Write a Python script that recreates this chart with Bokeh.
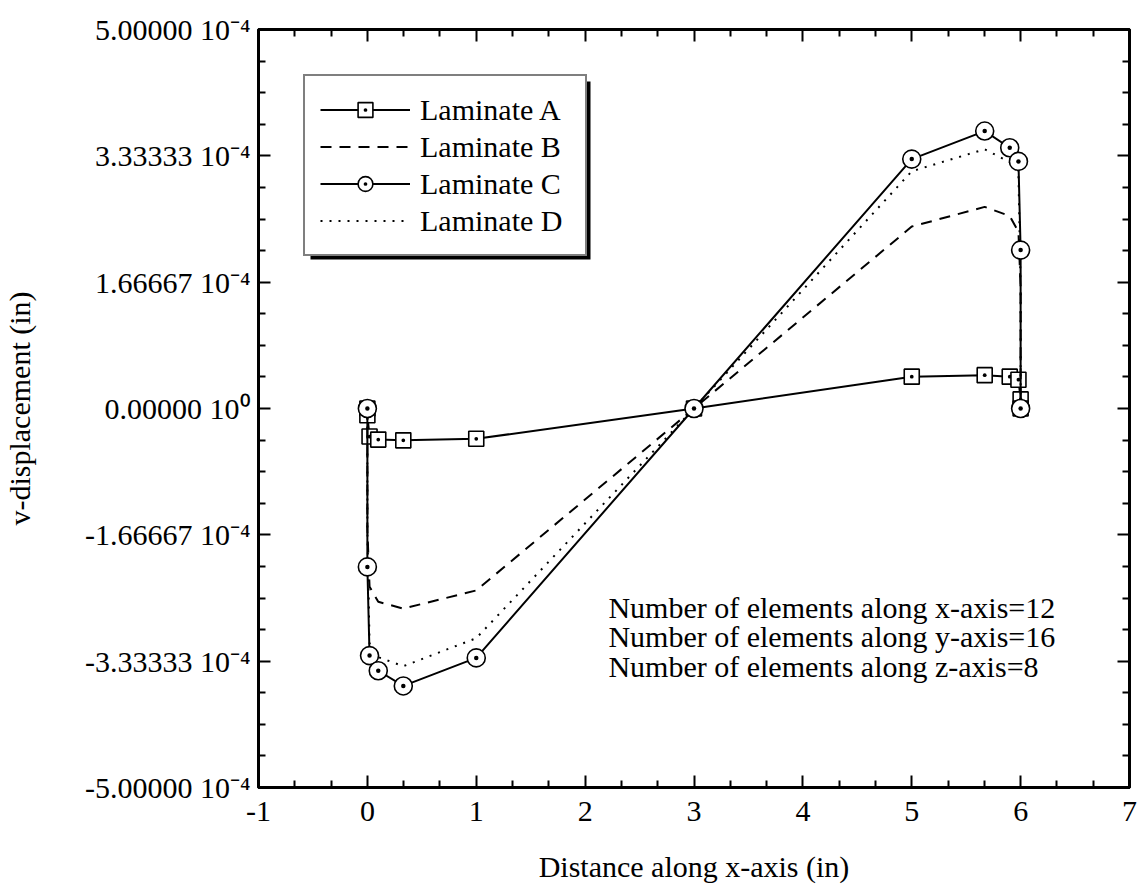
import numpy as np
from bokeh.plotting import figure
from bokeh.models import (Range1d, FixedTicker, LinearAxis, Label, Legend,
                          LegendItem, BoxAnnotation, CustomLabelingPolicy)
from bokeh.embed import file_html
from bokeh.resources import INLINE

# Node positions along the x-axis (in)
x_nodes = [0.0, 0.0, 0.02, 0.1, 0.33, 1.0, 3.0, 5.0, 5.67, 5.9, 5.98, 6.0, 6.0]

# v-displacement (in) for each laminate, in units of 1e-4 in
lam_a = [0.0, -0.09, -0.37, -0.41, -0.42, -0.40, 0.0, 0.42, 0.44, 0.42, 0.38, 0.12, 0.0]
lam_b = [0.0, -1.60, -2.35, -2.55, -2.64, -2.40, 0.0, 2.40, 2.66, 2.54, 2.33, 1.60, 0.0]
lam_c = [0.0, -2.09, -3.26, -3.46, -3.66, -3.29, 0.0, 3.29, 3.66, 3.44, 3.26, 2.09, 0.0]
lam_d = [0.0, -1.60, -3.10, -3.28, -3.40, -3.03, 0.0, 3.13, 3.42, 3.25, 3.10, 1.60, 0.0]

scale = 1e-4
ya = [v * scale for v in lam_a]
yb = [v * scale for v in lam_b]
yc = [v * scale for v in lam_c]
yd = [v * scale for v in lam_d]

# Axis ticks and labels
x_ticks = [-1, 0, 1, 2, 3, 4, 5, 6, 7]
x_tick_labels = ["-1", "0", "1", "2", "3", "4", "5", "6", "7"]
y_ticks = [-5e-4, -3.33333e-4, -1.66667e-4, 0.0, 1.66667e-4, 3.33333e-4, 5e-4]
y_tick_labels = ["-5.00000 10\u207b\u2074", "-3.33333 10\u207b\u2074",
                 "-1.66667 10\u207b\u2074", "0.00000 10\u2070",
                 "1.66667 10\u207b\u2074", "3.33333 10\u207b\u2074",
                 "5.00000 10\u207b\u2074"]

notes = ["Number of elements along x-axis=12",
         "Number of elements along y-axis=16",
         "Number of elements along z-axis=8"]

FONT = "Liberation Serif"
FS = "30px"

p = figure(width=1140, height=888,
           x_range=Range1d(-1, 7), y_range=Range1d(-5e-4, 5e-4),
           output_backend="svg", toolbar_location=None,
           min_border_left=258, min_border_right=11,
           min_border_top=29, min_border_bottom=101)
p.grid.visible = False
p.outline_line_color = "black"
p.outline_line_width = 3
p.background_fill_color = "white"
p.border_fill_color = "white"

x_minor = [a + (b - a) * k / 3 for a, b in zip(x_ticks[:-1], x_ticks[1:]) for k in (1, 2)]
y_minor = [a + (b - a) * k / 4 for a, b in zip(y_ticks[:-1], y_ticks[1:]) for k in (1, 2, 3)]
xticker = FixedTicker(ticks=x_ticks, minor_ticks=x_minor)
yticker = FixedTicker(ticks=y_ticks, minor_ticks=y_minor)


def style_axis(ax, labelled=True):
    ax.axis_line_color = "black"
    ax.axis_line_width = 3
    ax.major_tick_in = 12
    ax.major_tick_out = 0
    ax.minor_tick_in = 7
    ax.minor_tick_out = 0
    ax.major_tick_line_width = 2
    ax.minor_tick_line_width = 2
    ax.major_label_text_font = FONT
    ax.major_label_text_font_size = FS if labelled else "0px"
    ax.major_label_text_color = "black"
    ax.axis_label_text_font = FONT
    ax.axis_label_text_font_size = FS
    ax.axis_label_text_font_style = "normal"
    ax.axis_label_text_color = "black"
    if not labelled:
        ax.major_label_standoff = 0
        ax.major_label_policy = CustomLabelingPolicy(code="return []")


xa = p.xaxis[0]
xa.ticker = xticker
style_axis(xa)
xa.major_label_overrides = dict(zip(x_ticks, x_tick_labels))
xa.major_label_standoff = 14
xa.axis_label = "Distance along x-axis (in)"
xa.axis_label_standoff = 26

ya_ax = p.yaxis[0]
ya_ax.ticker = yticker
style_axis(ya_ax)
ya_ax.major_label_overrides = dict(zip(y_ticks, y_tick_labels))
ya_ax.major_label_standoff = 8
ya_ax.axis_label = "v-displacement (in)"
ya_ax.axis_label_standoff = 46

# Mirror ticks on the top and right edges of the frame, without labels
top_ax = LinearAxis(ticker=xticker)
style_axis(top_ax, labelled=False)
p.add_layout(top_ax, "above")
right_ax = LinearAxis(ticker=yticker)
style_axis(right_ax, labelled=False)
p.add_layout(right_ax, "right")

# Drop shadow behind the legend box
shadow = BoxAnnotation(left=-0.5224, right=2.0494, top=4.314e-4, bottom=1.9657e-4,
                       fill_color="black", fill_alpha=1.0, line_color=None)
p.add_layout(shadow)

ra = p.line(x_nodes, ya, line_color="black", line_width=2)
rsa = p.scatter(x_nodes, ya, marker="square_dot", size=15, fill_color="white",
                line_color="black", line_width=1.6)
rb = p.line(x_nodes, yb, line_color="black", line_width=2, line_dash="11 8")
rd = p.line(x_nodes, yd, line_color="black", line_width=2, line_dash="2 7")
rc = p.line(x_nodes, yc, line_color="black", line_width=2)
rsc = p.scatter(x_nodes, yc, marker="circle_dot", size=18, fill_color="white",
                line_color="black", line_width=1.6)

legend = Legend(items=[
    LegendItem(label="Laminate A", renderers=[ra, rsa]),
    LegendItem(label="Laminate B", renderers=[rb]),
    LegendItem(label="Laminate C", renderers=[rc, rsc]),
    LegendItem(label="Laminate D", renderers=[rd]),
], location="top_left", margin=45)
legend.label_text_font = FONT
legend.label_text_font_size = FS
legend.label_text_color = "black"
legend.glyph_width = 90
legend.glyph_height = 37
legend.label_height = 37
legend.label_width = 150
legend.spacing = 0
legend.padding = 15
legend.label_standoff = 10
legend.border_line_color = "black"
legend.border_line_width = 2.5
legend.background_fill_color = "white"
legend.background_fill_alpha = 1.0
p.add_layout(legend)

for txt, yv in zip(notes, [-2.62e-4, -3.01e-4, -3.40e-4]):
    p.add_layout(Label(x=2.214, y=yv, text=txt, text_font=FONT, text_font_size=FS,
                       text_baseline="middle", text_align="left", text_color="black"))

with open("out.html", "w") as f:
    f.write(file_html(p, INLINE))
